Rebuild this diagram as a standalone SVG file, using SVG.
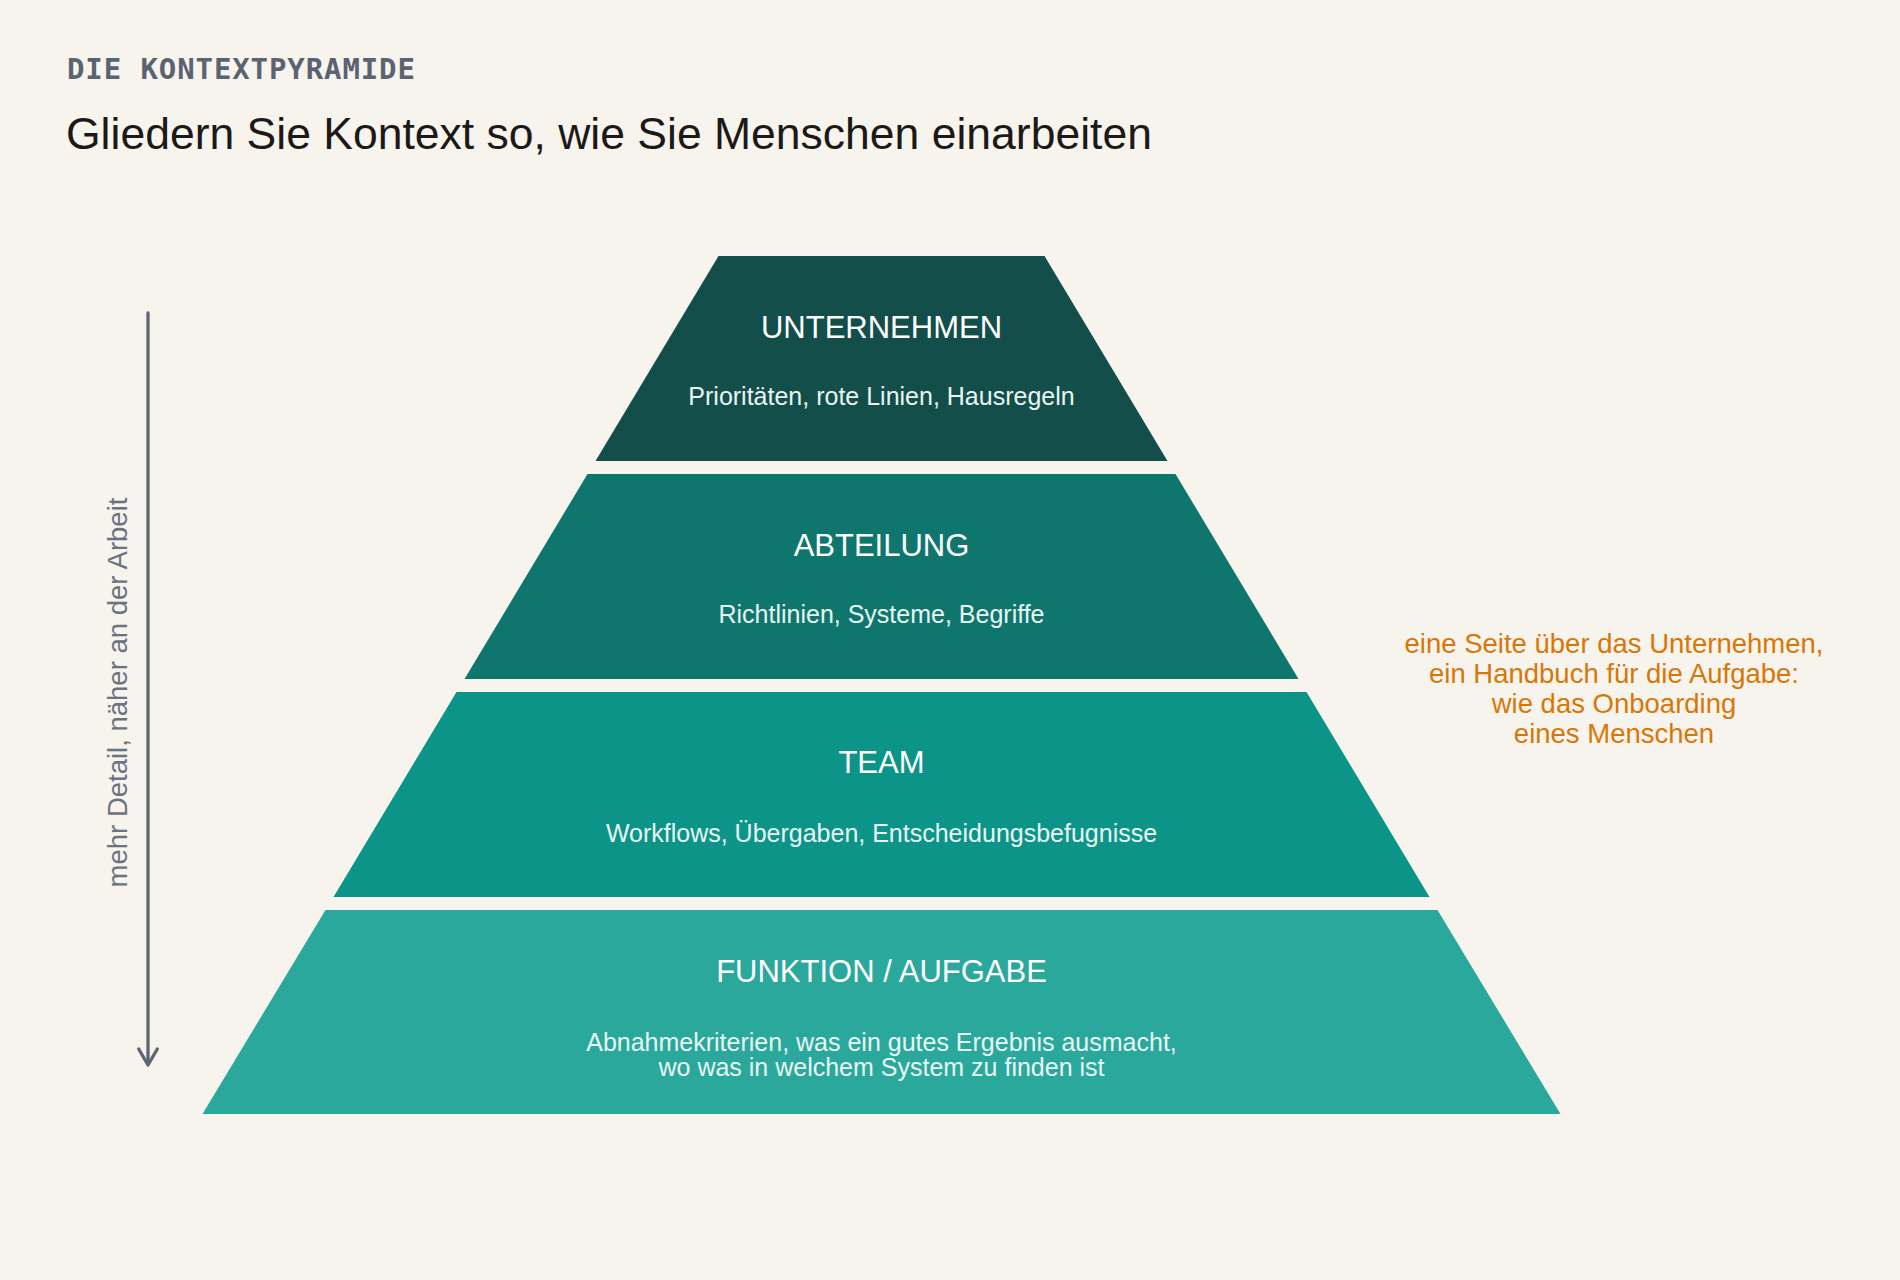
<svg xmlns="http://www.w3.org/2000/svg" width="1900" height="1280" viewBox="0 0 1900 1280">
  <defs>
    <style>
      .bg { fill: #f7f4ee; }
      .eyebrow { font-family: "DejaVu Sans Mono", "Liberation Mono", monospace; font-weight: bold; font-size: 29px; fill: #5b6372; letter-spacing: 0.9px; }
      .headline { font-family: "Liberation Sans", Arial, sans-serif; font-size: 44.5px; fill: #1c1917; }
      .tier-title { font-family: "Liberation Sans", Arial, sans-serif; font-size: 31px; fill: #ffffff; text-anchor: middle; }
      .tier-sub { font-family: "Liberation Sans", Arial, sans-serif; font-size: 25px; fill: #e8f6f3; text-anchor: middle; }
      .side { font-family: "Liberation Sans", Arial, sans-serif; font-size: 27.5px; fill: #6b7280; text-anchor: middle; }
      .note { font-family: "Liberation Sans", Arial, sans-serif; font-size: 27.5px; fill: #d97706; text-anchor: middle; }
      .axis { stroke: #5f6673; stroke-width: 3.3; fill: none; stroke-linecap: round; stroke-linejoin: round; }
    </style>
  </defs>

  <rect class="bg" x="0" y="0" width="1900" height="1280"/>

  <text class="eyebrow" x="67" y="79">DIE KONTEXTPYRAMIDE</text>
  <text class="headline" x="66" y="149">Gliedern Sie Kontext so, wie Sie Menschen einarbeiten</text>

  <g id="tier-unternehmen">
    <polygon points="718.5,256 1044.5,256 1167.5,461 595.5,461" fill="#134e4a"/>
    <text class="tier-title" x="881.5" y="338">UNTERNEHMEN</text>
    <text class="tier-sub" x="881.5" y="405">Prioritäten, rote Linien, Hausregeln</text>
  </g>

  <g id="tier-abteilung">
    <polygon points="587.5,474 1175.5,474 1298.5,679 464.5,679" fill="#0f766e"/>
    <text class="tier-title" x="881.5" y="556">ABTEILUNG</text>
    <text class="tier-sub" x="881.5" y="623">Richtlinien, Systeme, Begriffe</text>
  </g>

  <g id="tier-team">
    <polygon points="456.5,692 1306.5,692 1429.5,897 333.5,897" fill="#0d9488"/>
    <text class="tier-title" x="881.5" y="773">TEAM</text>
    <text class="tier-sub" x="881.5" y="842">Workflows, Übergaben, Entscheidungsbefugnisse</text>
  </g>

  <g id="tier-funktion">
    <polygon points="325.5,910 1437.5,910 1560.5,1114 202.5,1114" fill="#2ba89c"/>
    <text class="tier-title" x="881.5" y="982">FUNKTION / AUFGABE</text>
    <text class="tier-sub" x="881.5" y="1051">Abnahmekriterien, was ein gutes Ergebnis ausmacht,</text>
    <text class="tier-sub" x="881.5" y="1076">wo was in welchem System zu finden ist</text>
  </g>

  <g id="connectors">
    <line class="axis" x1="148" y1="313" x2="148" y2="1064"/>
    <polyline class="axis" points="138.7,1049 148,1065 157.3,1049"/>
  </g>

  <g id="axis-label">
    <text class="side" transform="translate(126.5,692.5) rotate(-90)" x="0" y="0">mehr Detail, näher an der Arbeit</text>
  </g>

  <g id="note">
    <text class="note" x="1614" y="653">eine Seite über das Unternehmen,</text>
    <text class="note" x="1614" y="683">ein Handbuch für die Aufgabe:</text>
    <text class="note" x="1614" y="713">wie das Onboarding</text>
    <text class="note" x="1614" y="743">eines Menschen</text>
  </g>
</svg>
